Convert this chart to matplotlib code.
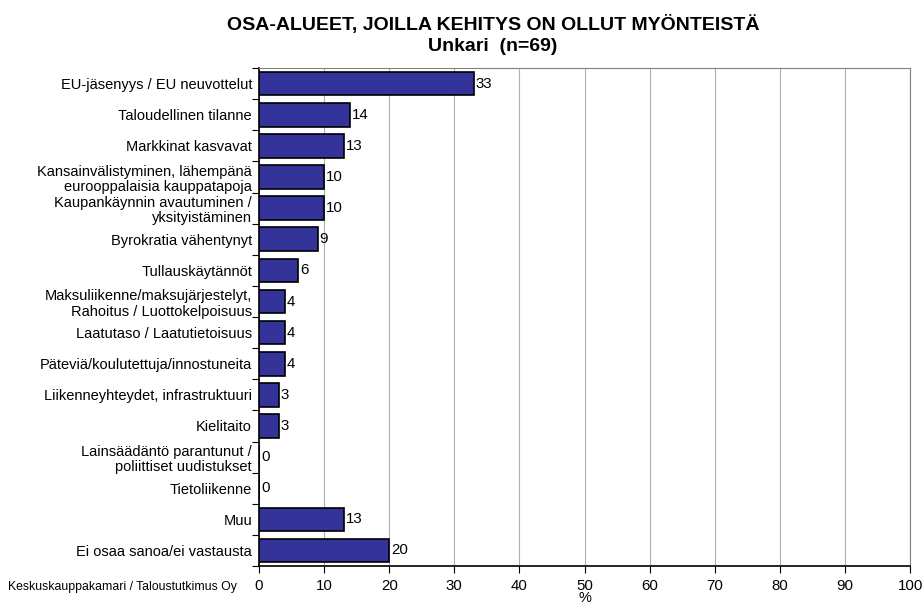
import matplotlib.pyplot as plt
import numpy as np

plt.rcParams['font.family'] = ['Liberation Sans', 'DejaVu Sans']

categories = ['EU-jäsenyys / EU neuvottelut',
              'Taloudellinen tilanne',
              'Markkinat kasvavat',
              'Kansainvälistyminen, lähempänä\neurooppalaisia kauppatapoja',
              'Kaupankäynnin avautuminen /\nyksityistäminen',
              'Byrokratia vähentynyt',
              'Tullauskäytännöt',
              'Maksuliikenne/maksujärjestelyt,\nRahoitus / Luottokelpoisuus',
              'Laatutaso / Laatutietoisuus',
              'Päteviä/koulutettuja/innostuneita',
              'Liikenneyhteydet, infrastruktuuri',
              'Kielitaito',
              'Lainsäädäntö parantunut /\npoliittiset uudistukset',
              'Tietoliikenne',
              'Muu',
              'Ei osaa sanoa/ei vastausta']
values = [33, 14, 13, 10, 10, 9, 6, 4, 4, 4, 3, 3, 0, 0, 13, 20]
xticks = [0, 10, 20, 30, 40, 50, 60, 70, 80, 90, 100]

fig = plt.figure(figsize=(9.23, 6.08), dpi=100)
ax = fig.add_axes([0.2806, 0.069, 0.7054, 0.819])

y = np.arange(len(categories))
ax.barh(y, values, height=0.76, color='#333399', edgecolor='black', linewidth=1.2, zorder=3)
for yi, v in zip(y, values):
    ax.text(v + 0.3, yi, str(v), va='center', ha='left', fontsize=10.8, zorder=4)

ax.set_ylim(len(categories) - 0.5, -0.5)
ax.set_xlim(0, 100)
ax.set_yticks(y)
ax.set_yticklabels(categories, fontsize=10.5, linespacing=1.15)
ax.set_yticks(np.arange(len(categories) + 1) - 0.5, minor=True)
ax.tick_params(axis='y', which='major', length=0, pad=5)
ax.tick_params(axis='y', which='minor', length=5, direction='out', width=0.8)
ax.set_xticks(xticks)
ax.tick_params(axis='x', labelsize=10.8, length=5, direction='out', width=0.8, pad=4)
ax.grid(axis='x', color='#b0b0b0', linewidth=0.8, zorder=0)

for side in ['top', 'right']:
    ax.spines[side].set_color('#808080')
    ax.spines[side].set_linewidth(0.8)
ax.spines['left'].set_linewidth(1.2)
ax.spines['bottom'].set_linewidth(1.2)

ax.set_xlabel('%', fontsize=10.5, labelpad=-1)

fig.text(0.534, 0.9605, 'OSA-ALUEET, JOILLA KEHITYS ON OLLUT MYÖNTEISTÄ',
         ha='center', va='center', fontsize=14, fontweight='bold')
fig.text(0.534, 0.9227, 'Unkari  (n=69)', ha='center', va='center',
         fontsize=14, fontweight='bold')
fig.text(0.009, 0.034, 'Keskuskauppakamari / Taloustutkimus Oy', ha='left',
         va='center', fontsize=8.8)

fig.savefig('out.png', dpi=100)
